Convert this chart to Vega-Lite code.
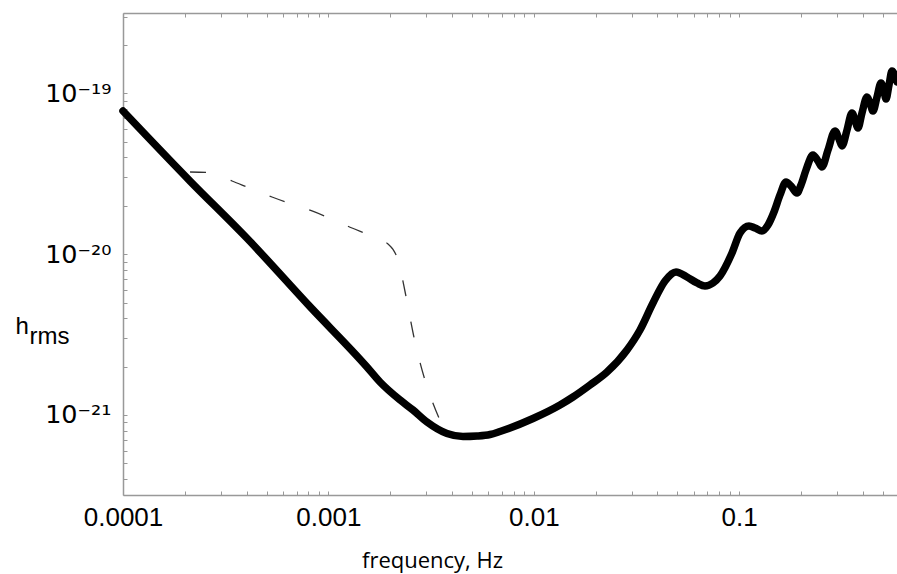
{
  "$schema": "https://vega.github.io/schema/vega-lite/v6.json",
  "width": 774,
  "height": 482,
  "autosize": {"type": "none"},
  "padding": {"left": 123, "top": 13, "right": 0, "bottom": 79},
  "background": "white",
  "config": {"view": {"stroke": null}, "font": "Liberation Sans"},
  "datasets": {
    "solid": [
      {"f": 0.0001, "h": 7.773e-20}, {"f": 0.000212, "h": 2.852e-20}, {"f": 0.0004015, "h": 1.256e-20},
      {"f": 0.0008136, "h": 4.716e-21}, {"f": 0.001537, "h": 1.997e-21}, {"f": 0.001783, "h": 1.604e-21},
      {"f": 0.002232, "h": 1.24e-21}, {"f": 0.002582, "h": 1.074e-21}, {"f": 0.00302, "h": 9.046e-22},
      {"f": 0.003779, "h": 7.674e-22}, {"f": 0.004522, "h": 7.35e-22}, {"f": 0.00529, "h": 7.403e-22},
      {"f": 0.006121, "h": 7.563e-22}, {"f": 0.006846, "h": 7.896e-22}, {"f": 0.00991, "h": 9.511e-22},
      {"f": 0.01342, "h": 1.154e-21}, {"f": 0.01552, "h": 1.294e-21}, {"f": 0.01878, "h": 1.537e-21},
      {"f": 0.02272, "h": 1.851e-21}, {"f": 0.02843, "h": 2.537e-21}, {"f": 0.03289, "h": 3.378e-21},
      {"f": 0.03804, "h": 4.972e-21}, {"f": 0.04354, "h": 6.812e-21}, {"f": 0.04925, "h": 7.751e-21},
      {"f": 0.0557, "h": 7.215e-21}, {"f": 0.06231, "h": 6.622e-21}, {"f": 0.06815, "h": 6.343e-21},
      {"f": 0.07455, "h": 6.622e-21}, {"f": 0.08065, "h": 7.318e-21}, {"f": 0.09225, "h": 1.017e-20},
      {"f": 0.1009, "h": 1.354e-20}, {"f": 0.1116, "h": 1.498e-20}, {"f": 0.1194, "h": 1.455e-20},
      {"f": 0.1291, "h": 1.394e-20}, {"f": 0.1381, "h": 1.519e-20}, {"f": 0.1477, "h": 1.83e-20},
      {"f": 0.158, "h": 2.335e-20}, {"f": 0.169, "h": 2.812e-20}, {"f": 0.1787, "h": 2.656e-20},
      {"f": 0.1912, "h": 2.402e-20}, {"f": 0.1999, "h": 2.694e-20}, {"f": 0.2115, "h": 3.339e-20},
      {"f": 0.2287, "h": 4.14e-20}, {"f": 0.2419, "h": 3.798e-20}, {"f": 0.253, "h": 3.486e-20},
      {"f": 0.2706, "h": 4.446e-20}, {"f": 0.2927, "h": 5.837e-20}, {"f": 0.3061, "h": 5.204e-20},
      {"f": 0.3167, "h": 4.709e-20}, {"f": 0.3349, "h": 5.921e-20}, {"f": 0.3541, "h": 7.553e-20},
      {"f": 0.3662, "h": 6.833e-20}, {"f": 0.3787, "h": 6.093e-20}, {"f": 0.3961, "h": 7.553e-20},
      {"f": 0.419, "h": 9.497e-20}, {"f": 0.4333, "h": 8.717e-20}, {"f": 0.4481, "h": 7.773e-20},
      {"f": 0.4687, "h": 9.497e-20}, {"f": 0.4902, "h": 1.161e-19}, {"f": 0.507, "h": 1.035e-19},
      {"f": 0.5184, "h": 9.231e-20}, {"f": 0.5362, "h": 1.128e-19}, {"f": 0.5545, "h": 1.378e-19},
      {"f": 0.5734, "h": 1.283e-19}, {"f": 0.5865, "h": 1.177e-19}
    ],
    "dashed": [
      {"f": 0.000212, "h": 3.245e-20}, {"f": 0.0002564, "h": 3.222e-20}, {"f": 0.0003395, "h": 2.852e-20},
      {"f": 0.0004015, "h": 2.618e-20}, {"f": 0.0005313, "h": 2.268e-20}, {"f": 0.0006286, "h": 2.097e-20},
      {"f": 0.0008321, "h": 1.857e-20}, {"f": 0.0009844, "h": 1.703e-20}, {"f": 0.001303, "h": 1.455e-20},
      {"f": 0.001542, "h": 1.335e-20}, {"f": 0.001783, "h": 1.234e-20}, {"f": 0.001951, "h": 1.157e-20},
      {"f": 0.002063, "h": 1.07e-20}, {"f": 0.002182, "h": 9.203e-21}, {"f": 0.002374, "h": 5.655e-21},
      {"f": 0.002602, "h": 3.099e-21}, {"f": 0.002927, "h": 1.711e-21}, {"f": 0.003159, "h": 1.276e-21},
      {"f": 0.003455, "h": 9.579e-22}, {"f": 0.003696, "h": 7.953e-22}
    ]
  },
  "layer": [
    {
      "data": {"name": "solid"},
      "mark": {"type": "line", "color": "black", "strokeWidth": 7.5, "interpolate": "monotone", "strokeCap": "round", "strokeJoin": "round"},
      "encoding": {
        "x": {
          "field": "f", "type": "quantitative",
          "scale": {"type": "log", "domain": [0.0001, 0.5865], "nice": false},
          "axis": {
            "orient": "bottom",
            "values": [0.0001, 0.0002, 0.0003, 0.0004, 0.0005, 0.0006, 0.0007, 0.0008, 0.0009, 0.001, 0.002, 0.003, 0.004, 0.005, 0.006, 0.007, 0.008, 0.009, 0.01, 0.02, 0.03, 0.04, 0.05, 0.06, 0.07, 0.08, 0.09, 0.1, 0.2, 0.3, 0.4, 0.5],
            "labelExpr": "datum.value === 0.0001 ? '0.0001' : datum.value === 0.001 ? '0.001' : datum.value === 0.01 ? '0.01' : datum.value === 0.1 ? '0.1' : ''",
            "grid": false,
            "tickSize": -4,
            "tickColor": "#999",
            "domainColor": "#999",
            "domainWidth": 1.5,
            "labelFont": "Liberation Sans",
            "labelFontSize": 26,
            "labelColor": "black",
            "labelPadding": 13,
            "labelFlush": false,
            "labelOverlap": false,
            "title": "frequency, Hz",
            "titleFont": "Open Sans",
            "titleFontSize": 22,
            "titleFontWeight": "normal",
            "titleColor": "black",
            "titleX": 309,
            "titleY": 72,
            "titleAlign": "center",
            "titleBaseline": "alphabetic"
          }
        },
        "y": {
          "field": "h", "type": "quantitative",
          "scale": {"type": "log", "domain": [3.18e-22, 3.162e-19], "nice": false},
          "axis": {
            "values": [4e-22, 5e-22, 6e-22, 7e-22, 8e-22, 9e-22, 1e-21, 2e-21, 3e-21, 4e-21, 5e-21, 6e-21, 7e-21, 8e-21, 9e-21, 1e-20, 2e-20, 3e-20, 4e-20, 5e-20, 6e-20, 7e-20, 8e-20, 9e-20, 1e-19, 2e-19, 3e-19],
            "labelExpr": "datum.value === 1e-19 ? '10\u207b\u00b9\u2079' : datum.value === 1e-20 ? '10\u207b\u00b2\u2070' : datum.value === 1e-21 ? '10\u207b\u00b2\u00b9' : ''",
            "grid": false,
            "tickSize": -4,
            "tickColor": "#999",
            "domainColor": "#999",
            "domainWidth": 1.5,
            "labelFont": "DejaVu Sans",
            "labelFontSize": 25.5,
            "labelColor": "black",
            "labelPadding": 16,
            "labelOverlap": false,
            "labelFlush": false,
            "title": ["h", "\u200b\u2002\u200arms"],
            "titleFont": "Liberation Sans",
            "titleFontSize": 24,
            "titleFontWeight": "normal",
            "titleColor": "black",
            "titleAngle": 0,
            "titleX": -108,
            "titleY": 320,
            "titleAlign": "left",
            "titleBaseline": "alphabetic",
            "titleLineHeight": 10
          }
        }
      }
    },
    {
      "data": {"name": "dashed"},
      "mark": {"type": "line", "color": "#333", "strokeWidth": 1.3, "strokeDash": [16, 26], "interpolate": "monotone"},
      "encoding": {
        "x": {
          "field": "f", "type": "quantitative",
          "scale": {"type": "log", "domain": [0.0001, 0.5865], "nice": false},
          "axis": {
            "orient": "top",
            "values": [0.0001, 0.0002, 0.0003, 0.0004, 0.0005, 0.0006, 0.0007, 0.0008, 0.0009, 0.001, 0.002, 0.003, 0.004, 0.005, 0.006, 0.007, 0.008, 0.009, 0.01, 0.02, 0.03, 0.04, 0.05, 0.06, 0.07, 0.08, 0.09, 0.1, 0.2, 0.3, 0.4, 0.5],
            "labels": false,
            "grid": false,
            "tickSize": -4,
            "tickColor": "#999",
            "domainColor": "#999",
            "domainWidth": 1.5,
            "title": null
          }
        },
        "y": {
          "field": "h", "type": "quantitative",
          "scale": {"type": "log", "domain": [3.18e-22, 3.162e-19], "nice": false},
          "axis": null
        }
      }
    }
  ],
  "resolve": {"axis": {"x": "independent", "y": "independent"}}
}
